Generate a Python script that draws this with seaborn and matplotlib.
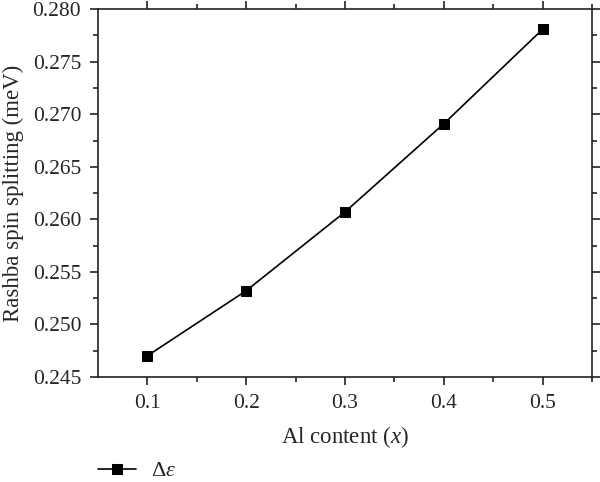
import pandas as pd
import matplotlib.pyplot as plt
import seaborn as sns

# data
al_content = [0.1, 0.2, 0.3, 0.4, 0.5]
splitting = [0.2470, 0.2532, 0.2607, 0.2691, 0.2781]
series_name = r'$\Delta\varepsilon$'

df = pd.DataFrame({'x': al_content, 'y': splitting, 'series': series_name})

sns.set_style('ticks')
plt.rcParams['font.family'] = ['Liberation Serif', 'DejaVu Serif']
plt.rcParams['mathtext.fontset'] = 'custom'
plt.rcParams['mathtext.rm'] = 'Liberation Serif'
plt.rcParams['mathtext.it'] = 'Liberation Serif:italic'
plt.rcParams['axes.unicode_minus'] = False

fig = plt.figure(figsize=(6, 4.82), dpi=100)
ax = fig.add_axes([0.163, 0.218, 0.824, 0.763])

sns.lineplot(data=df, x='x', y='y', hue='series', palette=['black'],
             marker='s', markersize=7, markeredgecolor='black',
             linewidth=1.2, ax=ax, legend=True)

ax.set_xlim(0.05, 0.55)
ax.set_ylim(0.245, 0.280)
ax.set_xticks([0.1, 0.2, 0.3, 0.4, 0.5])
ax.set_xticklabels(['0.1', '0.2', '0.3', '0.4', '0.5'])
ax.set_yticks([0.245, 0.250, 0.255, 0.260, 0.265, 0.270, 0.275, 0.280])
ax.set_yticklabels(['%.3f' % v for v in ax.get_yticks()])
ax.set_xticks([0.15, 0.25, 0.35, 0.45, 0.55], minor=True)
ax.set_yticks([0.2475, 0.2525, 0.2575, 0.2625, 0.2675, 0.2725, 0.2775], minor=True)

for s in ax.spines.values():
    s.set_visible(True)
    s.set_linewidth(1.2)
    s.set_color('#222222')
ax.tick_params(which='both', direction='out', top=True, right=True,
               labeltop=False, labelright=False, width=1.2, color='#222222')
ax.tick_params(which='major', length=6, labelsize=15.5, pad=6)
ax.tick_params(which='minor', length=3.5)

ax.set_xlabel(r'Al content ($\mathit{x}$)', fontsize=16.5, labelpad=8)
ax.set_ylabel('Rashba spin splitting (meV)', fontsize=16.5, labelpad=6)

handles, labels = ax.get_legend_handles_labels()
ax.get_legend().remove()
fig.legend(handles, labels, loc='center left',
           bbox_to_anchor=(98 / 600, 1 - 471 / 482),
           frameon=False, fontsize=16, handlelength=1.7, handletextpad=0.7,
           borderpad=0, borderaxespad=0)

fig.savefig('out.png', dpi=100)
